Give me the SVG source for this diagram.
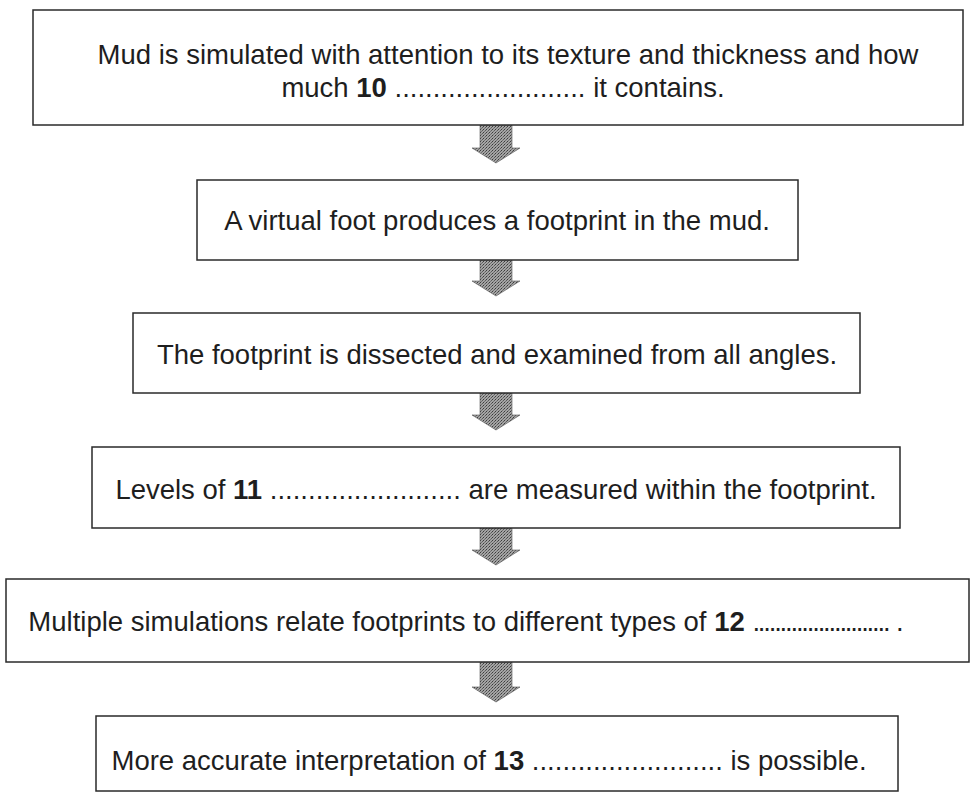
<svg xmlns="http://www.w3.org/2000/svg" width="976" height="792" viewBox="0 0 976 792">
<style>
.box{fill:#fff;stroke:#2a2a2a;stroke-width:1.5}
.t{font-family:"Liberation Sans",Arial,sans-serif;font-size:27.5px;fill:#1e1e1e;text-anchor:middle}
.b{font-weight:bold}
.d{letter-spacing:-2.2px}
.arr{fill:url(#stip);stroke:#555;stroke-width:0.6}
</style>
<defs>
<pattern id="stip" width="3" height="3" patternUnits="userSpaceOnUse">
<rect width="3" height="3" fill="#a4a4a4"/>
<rect width="1" height="1" fill="#3c3c3c"/>
<rect x="2" y="1" width="1" height="1" fill="#5a5a5a"/>
<rect x="1" y="2" width="1" height="1" fill="#707070"/>
</pattern>
</defs>
<rect width="976" height="792" fill="#fff"/>
<g id="connectors">
<polygon class="arr" points="480,125 512,125 512,148 520,148 496,163 472,148 480,148"/>
<polygon class="arr" points="480,260 512,260 512,281 520,281 496,296 472,281 480,281"/>
<polygon class="arr" points="480,393 512,393 512,415 520,415 496,430 472,415 480,415"/>
<polygon class="arr" points="480,528 512,528 512,550 520,550 496,565 472,550 480,550"/>
<polygon class="arr" points="480,662 512,662 512,687 520,687 496,702 472,687 480,687"/>
</g>
<g id="node1">
<rect class="box" x="33" y="10" width="930" height="115"/>
<text class="t" x="508" y="64">Mud is simulated with attention to its texture and thickness and how</text>
<text class="t" x="503" y="97">much <tspan class="b">10</tspan> ......................... it contains.</text>
</g>
<g id="node2">
<rect class="box" x="197" y="180" width="601" height="80"/>
<text class="t" x="497" y="230">A virtual foot produces a footprint in the mud.</text>
</g>
<g id="node3">
<rect class="box" x="133" y="313" width="727" height="80"/>
<text class="t" x="497" y="364">The footprint is dissected and examined from all angles.</text>
</g>
<g id="node4">
<rect class="box" x="92" y="447" width="808" height="81"/>
<text class="t" x="496" y="499">Levels of <tspan class="b">11</tspan> ......................... are measured within the footprint.</text>
</g>
<g id="node5">
<rect class="box" x="6" y="579" width="963" height="83"/>
<text class="t" x="466" y="631">Multiple simulations relate footprints to different types of <tspan class="b">12</tspan> <tspan class="d">.........................</tspan> .</text>
</g>
<g id="node6">
<rect class="box" x="96" y="716" width="802" height="75"/>
<text class="t" x="489" y="770">More accurate interpretation of <tspan class="b">13</tspan> ......................... is possible.</text>
</g>
</svg>
